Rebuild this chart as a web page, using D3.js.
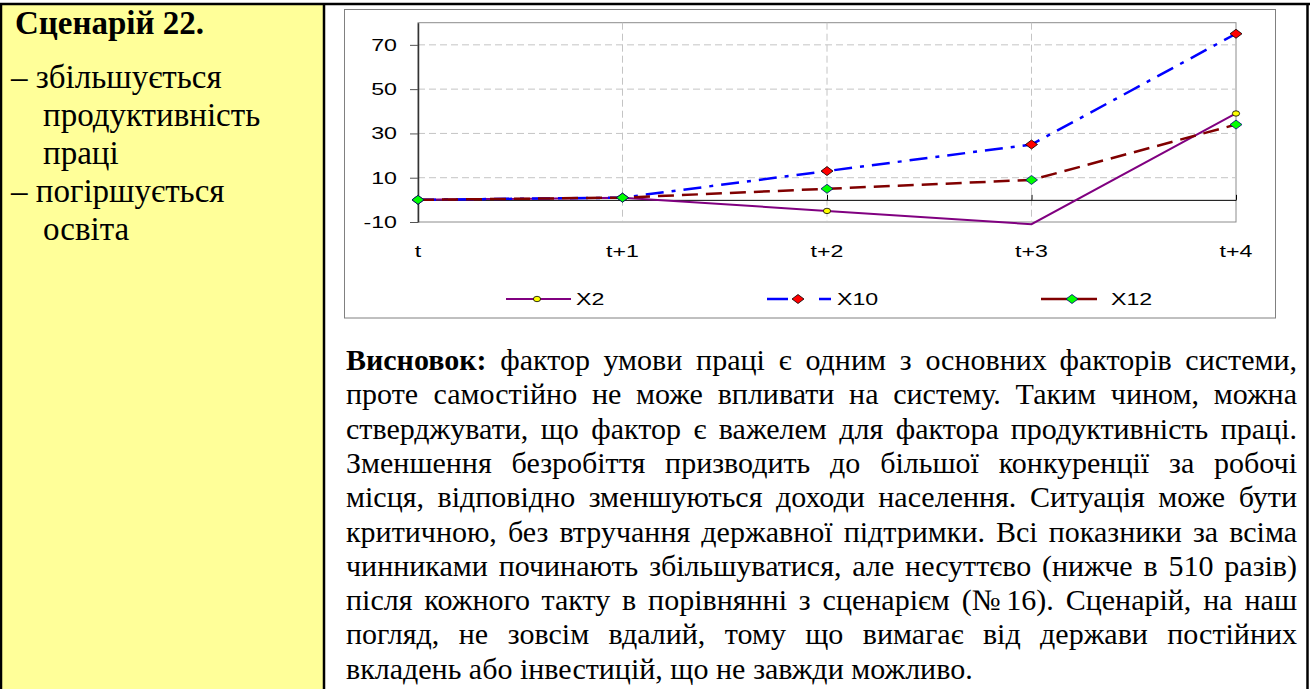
<!DOCTYPE html>
<html>
<head>
<meta charset="utf-8">
<script src="https://cdn.jsdelivr.net/npm/d3@7"></script>
<style>
  body { margin: 0; background: #fff; }
  svg { display: block; }
  .serif { font-family: 'Liberation Serif', 'DejaVu Serif', serif; }
  .sans { font-family: 'Liberation Sans', Arial, sans-serif; }
</style>
</head>
<body>
<svg id="page" width="1313" height="689"></svg>
<script>
// chart data
const steps = ['t', 't+1', 't+2', 't+3', 't+4'];
const x2Values = [0, 1, -5, -11, 39];
const x10Values = [0, 1, 13, 25, 75];
const x12Values = [0, 1, 5, 9, 34];
const yTickValues = [-10, 10, 30, 50, 70];
const seriesNames = ['X2', 'X10', 'X12'];

// text of the table
const sideTitle = 'Сценарій 22.';
const sideLines = ['– збільшується', 'продуктивність', 'праці', '– погіршується', 'освіта'];
const conclusionLead = 'Висновок:';
const conclusionLines = [
	'фактор умови праці є одним з основних факторів системи,',
	'проте самостійно не може впливати на систему. Таким чином, можна',
	'стверджувати, що фактор є важелем для фактора продуктивність праці.',
	'Зменшення безробіття призводить до більшої конкуренції за робочі',
	'місця, відповідно зменшуються доходи населення. Ситуація може бути',
	'критичною, без втручання державної підтримки. Всі показники за всіма',
	'чинниками починають збільшуватися, але несуттєво (нижче в 510 разів)',
	'після кожного такту в порівнянні з сценарієм (№\u200916). Сценарій, на наш',
	'погляд, не зовсім вдалий, тому що вимагає від держави постійних',
	'вкладень або інвестицій, що не завжди можливо.'
];

const svg = d3.select('#page');

//table cells and borders
svg.append('rect').attr('x', 2).attr('y', 5).attr('width', 321).attr('height', 690).attr('fill', '#ffff99');
const border = svg.append('g').attr('stroke', '#000').attr('stroke-width', 2.5);
border.append('line').attr('x1', 0).attr('x2', 1310).attr('y1', 4).attr('y2', 4);
border.append('line').attr('x1', 1).attr('x2', 1).attr('y1', 3).attr('y2', 689);
border.append('line').attr('x1', 324).attr('x2', 324).attr('y1', 3).attr('y2', 689);
border.append('line').attr('x1', 1307.5).attr('x2', 1307.5).attr('y1', 3).attr('y2', 689);

//left cell text
svg.append('text').attr('class', 'serif')
	.attr('x', 15).attr('y', 34)
	.style('font-size', '33px').style('font-weight', 'bold')
	.text(sideTitle);
svg.append('g').attr('class', 'serif').selectAll('text').data(sideLines).enter().append('text')
	.attr('x', (d) => (d.startsWith('–') ? 11 : 43))
	.attr('y', (d, i) => 88 + i * 38)
	.style('font-size', '33px')
	.text((d) => d);

//chart frame
svg.append('rect').attr('x', 344.5).attr('y', 9.5).attr('width', 931).attr('height', 308.5)
	.attr('fill', '#fff').attr('stroke', '#808080').attr('stroke-width', 1);

const plot = { left: 418, right: 1236, top: 22.7, bottom: 222 };
const xScale = d3.scalePoint().domain(steps).range([plot.left, plot.right]);
const yScale = d3.scaleLinear().domain([-10, 80]).range([plot.bottom, plot.top]);

//plot border and dashed grid
svg.append('rect').attr('x', plot.left).attr('y', plot.top)
	.attr('width', plot.right - plot.left).attr('height', plot.bottom - plot.top)
	.attr('fill', 'none').attr('stroke', '#8c8c8c');
const grid = svg.append('g').attr('stroke', '#c4c4c4').attr('stroke-dasharray', '7,4');
grid.selectAll('.h').data(yTickValues.filter((d) => d > -10)).enter().append('line')
	.attr('x1', plot.left).attr('x2', plot.right)
	.attr('y1', (d) => yScale(d)).attr('y2', (d) => yScale(d));
grid.selectAll('.v').data(steps.slice(1, -1)).enter().append('line')
	.attr('x1', (d) => xScale(d)).attr('x2', (d) => xScale(d))
	.attr('y1', plot.top).attr('y2', plot.bottom);

//y axis
const yAxis = svg.append('g').attr('transform', 'translate(' + plot.left + ',0)')
	.call(d3.axisLeft(yScale).tickValues(yTickValues).tickSizeInner(8).tickSizeOuter(0).tickFormat(''));
yAxis.select('.domain').attr('stroke', '#333').attr('stroke-width', 1.5);
yAxis.selectAll('.tick line').attr('stroke', '#555');

//zero line with category ticks
const xAxis = svg.append('g').attr('transform', 'translate(0,' + yScale(0) + ')')
	.call(d3.axisBottom(xScale).tickSizeInner(-5).tickSizeOuter(0).tickFormat(''));
xAxis.select('.domain').attr('stroke', '#000');
xAxis.selectAll('.tick line').attr('stroke', '#000');

//stretched chart labels (the chart picture is wider than tall)
function chartLabel(x, y, anchor, txt) {
	svg.append('text').attr('class', 'sans')
		.attr('transform', 'translate(' + x + ',' + y + ') scale(1.45,1)')
		.attr('text-anchor', anchor)
		.style('font-size', '16px').attr('fill', '#000')
		.text(txt);
}
yTickValues.forEach((d) => chartLabel(397, yScale(d) + 5.8, 'end', d));
steps.forEach((d) => chartLabel(xScale(d), 257, 'middle', d));

//series
const series = [
	{ name: seriesNames[0], values: x2Values, color: '#800080', dash: null, width: 2, marker: 'circle', fill: '#ffff00', edge: '#000' },
	{ name: seriesNames[1], values: x10Values, color: '#0000ff', dash: '18,8,4,8', width: 2.5, marker: 'diamond', fill: '#ff0000', edge: '#000' },
	{ name: seriesNames[2], values: x12Values, color: '#800000', dash: '16,8', width: 2.5, marker: 'diamond', fill: '#00ff00', edge: '#000080' }
];
const line = d3.line().x((d, i) => xScale(steps[i])).y((d) => yScale(d));
series.forEach((s) => {
	svg.append('path').datum(s.values)
		.attr('d', line).attr('fill', 'none')
		.attr('stroke', s.color).attr('stroke-width', s.width)
		.attr('stroke-dasharray', s.dash);
});

function drawMarker(g, s, cx, cy) {
	if (s.marker === 'circle') {
		g.append('ellipse').attr('cx', cx).attr('cy', cy).attr('rx', 3.6).attr('ry', 2.7)
			.attr('fill', s.fill).attr('stroke', s.edge).attr('stroke-width', 0.8);
	} else {
		g.append('path')
			.attr('d', 'M' + (cx - 6) + ',' + cy + 'L' + cx + ',' + (cy - 4.5) + 'L' + (cx + 6) + ',' + cy + 'L' + cx + ',' + (cy + 4.5) + 'Z')
			.attr('fill', s.fill).attr('stroke', s.edge).attr('stroke-width', 0.8);
	}
}
const markers = svg.append('g');
series.forEach((s) => {
	s.values.forEach((v, i) => {
		if (v < yScale.domain()[0]) return; //outside the axis, not shown
		drawMarker(markers, s, xScale(steps[i]), yScale(v));
	});
});

//legend
const legendY = 299;
const legendPos = [
	{ x1: 506, x2: 571, m: 537, t: 576, dash: null },
	{ x1: 767, x2: 831, m: 798, t: 837, dash: '21,31,12' },
	{ x1: 1041, x2: 1097, m: 1072, t: 1111, dash: null }
];
series.forEach((s, i) => {
	const p = legendPos[i];
	svg.append('line').attr('x1', p.x1).attr('x2', p.x2).attr('y1', legendY).attr('y2', legendY)
		.attr('stroke', s.color).attr('stroke-width', s.width).attr('stroke-dasharray', p.dash);
	drawMarker(svg, s, p.m, legendY);
	chartLabel(p.t, legendY + 5.8, 'start', s.name);
});

//justified conclusion text
const textLeft = 346, textWidth = 951, fontPx = 30;
conclusionLines.forEach((ln, i) => {
	const t = svg.append('text').attr('class', 'serif')
		.attr('y', 370 + i * 34.3)
		.style('font-size', fontPx + 'px');
	let words = ln.split(' ').map((w) => ({ w: w, bold: false }));
	if (i === 0) words.unshift({ w: conclusionLead, bold: true });
	const spans = words.map((o) =>
		t.append('tspan').style('font-weight', o.bold ? 'bold' : 'normal').text(o.w)
	);
	const widths = spans.map((sp) => sp.node().getComputedTextLength());
	const total = d3.sum(widths);
	const last = i === conclusionLines.length - 1;
	const gap = last ? fontPx * 0.25 : (textWidth - total) / (words.length - 1);
	let cx = textLeft;
	spans.forEach((sp, k) => {
		sp.attr('x', cx);
		cx += widths[k] + gap;
	});
});
</script>
</body>
</html>
